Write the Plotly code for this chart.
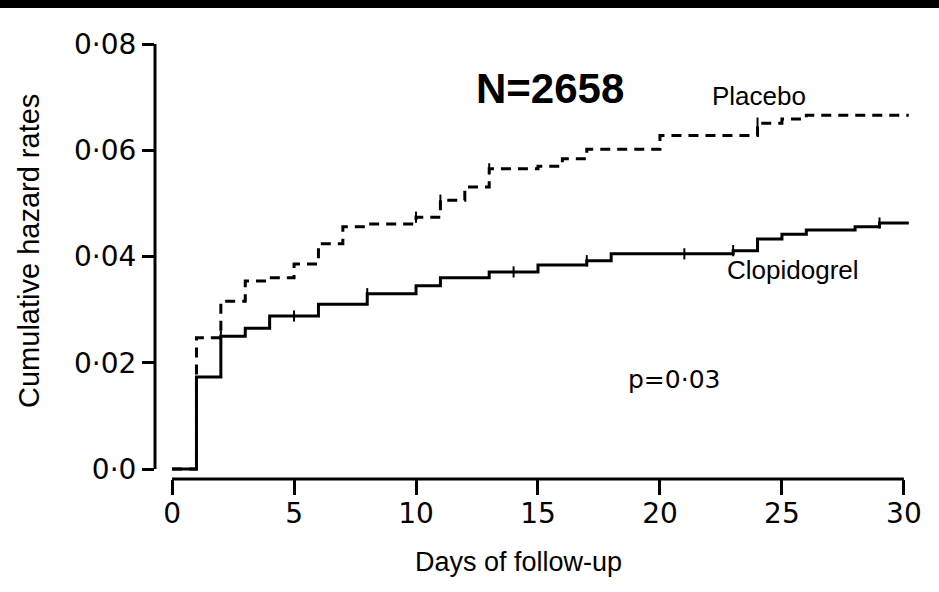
import numpy as np
import plotly.graph_objects as go

# Step-function cumulative hazard estimates (day of step, cumulative hazard after step)
placebo_days = [0, 1, 2, 3, 4, 5, 6, 7, 8, 10, 11, 12, 13, 15, 16, 17, 20, 24, 25, 26, 30.2]
placebo_hazard = [0.0, 0.0247, 0.0316, 0.0354, 0.0360, 0.0386, 0.0424, 0.0456, 0.0461,
                  0.0474, 0.0506, 0.0531, 0.0565, 0.0570, 0.0584, 0.0602, 0.0628,
                  0.0651, 0.0659, 0.0666, 0.0666]

clopidogrel_days = [0, 1, 2, 3, 4, 6, 8, 10, 11, 13, 15, 17, 18, 23, 24, 25, 26, 28, 29, 30.2]
clopidogrel_hazard = [0.0, 0.0173, 0.0250, 0.0265, 0.0288, 0.0310, 0.0330, 0.0345, 0.0360,
                      0.0371, 0.0384, 0.0392, 0.0405, 0.0411, 0.0433, 0.0442, 0.0450,
                      0.0456, 0.0463, 0.0463]

# Days carrying a small tick mark on each curve
placebo_ticks = [10, 11, 13, 24]
clopidogrel_ticks = [2, 5, 8, 14, 17, 21, 23, 29]

x_tick_vals = [0, 5, 10, 15, 20, 25, 30]
y_tick_vals = [0.0, 0.02, 0.04, 0.06, 0.08]
y_tick_text = ["0·0", "0·02", "0·04", "0·06", "0·08"]


def step_value(days, hazard, t):
    idx = np.searchsorted(np.asarray(days), t, side="right") - 1
    return hazard[idx]


fig = go.Figure()

fig.add_trace(go.Scatter(
    x=placebo_days, y=placebo_hazard, mode="lines",
    line=dict(shape="hv", color="black", width=3, dash="10px,7px"),
    showlegend=False, hoverinfo="skip"))

fig.add_trace(go.Scatter(
    x=clopidogrel_days, y=clopidogrel_hazard, mode="lines",
    line=dict(shape="hv", color="black", width=3),
    showlegend=False, hoverinfo="skip"))

fig.add_trace(go.Scatter(
    x=placebo_ticks,
    y=[step_value(placebo_days, placebo_hazard, t) for t in placebo_ticks],
    mode="markers",
    marker=dict(symbol="line-ns", size=8, line=dict(color="black", width=2)),
    showlegend=False, hoverinfo="skip"))

fig.add_trace(go.Scatter(
    x=clopidogrel_ticks,
    y=[step_value(clopidogrel_days, clopidogrel_hazard, t) for t in clopidogrel_ticks],
    mode="markers",
    marker=dict(symbol="line-ns", size=8, line=dict(color="black", width=2)),
    showlegend=False, hoverinfo="skip"))

label_font = dict(family="Liberation Sans, Arial, sans-serif", size=26, color="black")
num_font = dict(family="DejaVu Sans, sans-serif", size=25, color="black")

annotations = [
    dict(x=15.49, y=0.0717, xref="x", yref="y", text="N=2658", showarrow=False,
         font=dict(family="Liberation Sans, Arial, sans-serif", size=42, color="black",
                   weight="bold"),
         xanchor="center", yanchor="middle"),
    dict(x=24.04, y=0.0702, xref="x", yref="y", text="Placebo", showarrow=False,
         font=label_font, xanchor="center", yanchor="middle"),
    dict(x=25.44, y=0.0374, xref="x", yref="y", text="Clopidogrel", showarrow=False,
         font=label_font, xanchor="center", yanchor="middle"),
    dict(x=20.56, y=0.01685, xref="x", yref="y", text="p=0·03", showarrow=False,
         font=num_font, xanchor="center", yanchor="middle"),
    dict(x=0.482, y=-0.19, xref="paper", yref="paper", text="Days of follow-up",
         showarrow=False,
         font=dict(family="Liberation Sans, Arial, sans-serif", size=27, color="black"),
         xanchor="center", yanchor="middle"),
    dict(x=-0.167, y=0.524, xref="paper", yref="paper", text="Cumulative hazard rates",
         showarrow=False, textangle=-90,
         font=dict(family="Liberation Sans, Arial, sans-serif", size=29, color="black"),
         xanchor="center", yanchor="middle"),
]

shapes = [
    # offset axis lines
    dict(type="line", xref="paper", yref="y", x0=0, x1=0, y0=0, y1=0.08,
         line=dict(color="black", width=3)),
    dict(type="line", xref="x", yref="paper", x0=0, x1=30, y0=0, y1=0,
         line=dict(color="black", width=3)),
    # black band across the top edge
    dict(type="rect", xref="paper", yref="paper", x0=-0.3, x1=1.1,
         y0=1 + 36 / 435, y1=1.2, fillcolor="black", line=dict(width=0), layer="above"),
]

fig.update_layout(
    width=939, height=592,
    margin=dict(l=155, r=29, t=44, b=113),
    paper_bgcolor="white", plot_bgcolor="white",
    annotations=annotations, shapes=shapes,
    xaxis=dict(range=[-0.7, 30.25], tickvals=x_tick_vals, ticks="outside", ticklen=15,
               tickwidth=3, tickcolor="black", showline=False, showgrid=False,
               zeroline=False, ticklabelstandoff=-6,
               tickfont=dict(family="DejaVu Sans, sans-serif", size=28, color="black")),
    yaxis=dict(range=[-0.00188, 0.08], tickvals=y_tick_vals, ticktext=y_tick_text,
               ticks="outside", ticklen=12, tickwidth=3, tickcolor="black",
               showline=False, showgrid=False, zeroline=False,
               tickfont=dict(family="DejaVu Sans, sans-serif", size=28, color="black")),
)

fig.write_html("out.html")
